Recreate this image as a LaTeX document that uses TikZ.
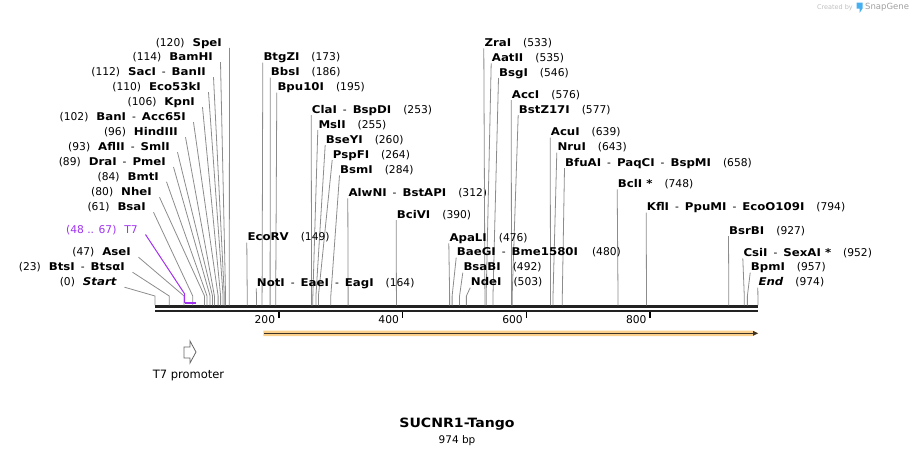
\documentclass[tikz,border=0pt]{standalone}
\usepackage{fontspec}
\setmainfont{DejaVu Sans}[BoldFeatures={FakeStretch=1.1},BoldItalicFeatures={FakeStretch=1.1}]
\usetikzlibrary{arrows.meta}

\definecolor{leadgray}{RGB}{140,140,140}
\definecolor{t7purple}{RGB}{160,50,240}
\definecolor{featorange}{RGB}{250,208,138}
\definecolor{featdark}{RGB}{60,52,40}
\definecolor{dnablack}{RGB}{34,34,34}
\definecolor{snapblue}{RGB}{70,175,240}

\newcommand{\enz}[1]{\textbf{#1}}
\newcommand{\dsh}{\hspace{6pt}-\hspace{6pt}}
\newcommand{\bpx}[1]{155+0.619*#1}

\begin{document}
\begin{tikzpicture}[x=1pt,y=-1pt,
    every node/.style={inner sep=0pt, font=\fontsize{10.7}{12}\selectfont},
    lftlbl/.style={anchor=base east},
    rgtlbl/.style={anchor=base west},
    leader/.style={draw=leadgray, line width=0.8pt}]

  \useasboundingbox (0,0) rectangle (914,456);

  % sequence (two strands)
  \coordinate (seqL) at (155,306.6);
  \coordinate (seqR) at (758,306.6);
  \coordinate (seqL2) at (155,311.2);
  \coordinate (seqR2) at (758,311.2);
  \draw[dnablack, line width=2.6pt] (seqL) -- (seqR);
  \draw[dnablack, line width=2.2pt] (seqL2) -- (seqR2);

  % ruler
  \foreach \t in {200,400,600,800} {
    \coordinate (tk\t) at ({\bpx{\t}},312.3);
    \draw[black, line width=1.5pt] (tk\t) -- ++(0,5.7);
    \node[anchor=east] (tl\t) at ({\bpx{\t}-3.5},319.5) {\t};
  }

  % sites on the left
  \foreach \nm/\yy/\xr/\bp/\txt in {
    spei/46.3/222/120/{(120)\hspace{8pt}\enz{SpeI}},
    bamhi/60.7/213/114/{(114)\hspace{8pt}\enz{BamHI}},
    saci/75.7/206/112/{(112)\hspace{8pt}\enz{SacI}\dsh\enz{BanII}},
    ecoki/90.7/201/110/{(110)\hspace{8pt}\enz{Eco53kI}},
    kpni/105.7/195/106/{(106)\hspace{8pt}\enz{KpnI}},
    bani/120.7/186/102/{(102)\hspace{8pt}\enz{BanI}\dsh\enz{Acc65I}},
    hindiii/135.7/178/96/{(96)\hspace{8pt}\enz{HindIII}},
    aflii/150.7/170/93/{(93)\hspace{8pt}\enz{AflII}\dsh\enz{SmlI}},
    drai/165.5/166/89/{(89)\hspace{8pt}\enz{DraI}\dsh\enz{PmeI}},
    bmti/180.3/159/84/{(84)\hspace{8pt}\enz{BmtI}},
    nhei/195.7/152/80/{(80)\hspace{8pt}\enz{NheI}},
    bsai/210.7/146/61/{(61)\hspace{8pt}\enz{BsaI}},
    asei/255.7/131/47/{(47)\hspace{8pt}\enz{AseI}},
    btsi/270.7/125/23/{(23)\hspace{8pt}\enz{BtsI}\dsh\enz{BtsαI}},
    start/285.7/117/0/{(0)\hspace{8pt}\textbf{\textit{Start}}}} {
    \node[lftlbl] (\nm) at (\xr,\yy) {\txt};
    \coordinate (\nm-k) at ({\bpx{\bp}},296);
    \coordinate (\nm-c) at ({\bpx{\bp}},305.3);
    \draw[leader] ([shift={(7.5,1.5)}]\nm.base east) -- (\nm-k) -- (\nm-c);
  }

  % sites on the right
  \foreach \nm/\yy/\xl/\bp/\txt in {
    btgzi/60.7/263.3/173/{\enz{BtgZI}\hspace{12pt}(173)},
    bbsi/75.7/270.7/186/{\enz{BbsI}\hspace{12pt}(186)},
    bpui/90.7/277.3/195/{\enz{Bpu10I}\hspace{12pt}(195)},
    clai/113/311.7/253/{\enz{ClaI}\dsh\enz{BspDI}\hspace{12pt}(253)},
    msli/128/318.3/255/{\enz{MslI}\hspace{12pt}(255)},
    bseyi/143/325.7/260/{\enz{BseYI}\hspace{12pt}(260)},
    pspfi/158/332.7/264/{\enz{PspFI}\hspace{12pt}(264)},
    bsmi/173.3/340/284/{\enz{BsmI}\hspace{12pt}(284)},
    alwni/196.3/348.3/312/{\enz{AlwNI}\dsh\enz{BstAPI}\hspace{12pt}(312)},
    bcivi/218/396.7/390/{\enz{BciVI}\hspace{12pt}(390)},
    ecorv/240.7/247.3/149/{\enz{EcoRV}\hspace{12pt}(149)},
    noti/286.3/256.7/164/{\enz{NotI}\dsh\enz{EaeI}\dsh\enz{EagI}\hspace{12pt}(164)},
    zrai/46.3/484.3/533/{\enz{ZraI}\hspace{12pt}(533)},
    aatii/61.3/491.7/535/{\enz{AatII}\hspace{12pt}(535)},
    bsgi/76/499/546/{\enz{BsgI}\hspace{12pt}(546)},
    acci/98/511.7/576/{\enz{AccI}\hspace{12pt}(576)},
    bstzi/113/518.7/577/{\enz{BstZ17I}\hspace{12pt}(577)},
    acui/135.7/550.7/639/{\enz{AcuI}\hspace{12pt}(639)},
    nrui/150.7/557.3/643/{\enz{NruI}\hspace{12pt}(643)},
    bfuai/166/565/658/{\enz{BfuAI}\dsh\enz{PaqCI}\dsh\enz{BspMI}\hspace{12pt}(658)},
    bcli/187.3/617.7/748/{\enz{BclI *}\hspace{12pt}(748)},
    kfli/210.7/646.7/794/{\enz{KflI}\dsh\enz{PpuMI}\dsh\enz{EcoO109I}\hspace{12pt}(794)},
    apali/241.3/449.3/476/{\enz{ApaLI}\hspace{12pt}(476)},
    baegi/255.7/456.7/480/{\enz{BaeGI}\dsh\enz{Bme1580I}\hspace{14pt}(480)},
    bsabi/270.7/463.3/492/{\enz{BsaBI}\hspace{12pt}(492)},
    ndei/285.7/470.7/503/{\enz{NdeI}\hspace{12pt}(503)},
    bsrbi/234/729/927/{\enz{BsrBI}\hspace{12pt}(927)},
    csii/256.3/743.3/952/{\enz{CsiI}\dsh\enz{SexAI *}\hspace{12pt}(952)},
    bpmi/270.7/750.7/957/{\enz{BpmI}\hspace{12pt}(957)},
    stop/285.7/758.3/974/{\textbf{\textit{End}}\hspace{12pt}(974)}} {
    \node[rgtlbl] (\nm) at (\xl,\yy) {\txt};
    \coordinate (\nm-k) at ({\bpx{\bp}},296);
    \coordinate (\nm-c) at ({\bpx{\bp}},305.3);
    \draw[leader] ([shift={(-0.5,2)}]\nm.base west) -- (\nm-k) -- (\nm-c);
  }

  % T7 feature label
  \node[lftlbl, text=t7purple] (t7) at (138,233) {(48 .. 67)\hspace{8pt}T7};
  \coordinate (t7-k) at ({\bpx{48}},294);
  \coordinate (t7-a) at ({\bpx{48}},302.8);
  \coordinate (t7-b) at ({\bpx{67}},302.8);
  \draw[t7purple, line width=1pt] ([shift={(7.5,1.5)}]t7.base east) -- (t7-k) -- (t7-a);
  \draw[t7purple, line width=1.8pt] (t7-a) -- (t7-b);

  % ORF arrow
  \coordinate (orfA) at ({\bpx{175}},333.3);
  \coordinate (orfB) at (758.5,333.3);
  \fill[featorange] ([yshift=2.8pt]orfA) -- ([shift={(-6.5,-2.8)}]orfB) -- (orfB)
    -- ([shift={(-6.5,2.8)}]orfB) -- ([yshift=-2.8pt]orfA) -- cycle;
  \draw[featdark, line width=1.5pt, -{Triangle[length=5pt,width=4.6pt]}]
    ([xshift=1pt]orfA) -- ([xshift=-0.5pt]orfB);

  % T7 promoter
  \coordinate (prom) at (184,347);
  \draw[gray!80!black, line width=0.8pt, fill=white] (prom) -- ++(6,0) -- ++(0,-6)
    -- ++(6,11) -- ++(-6,11) -- ++(0,-5) -- ++(-6,0) -- cycle;
  \node[font=\fontsize{11.5}{13}\selectfont] (promlbl) at (188.5,375) {T7 promoter};

  % title
  \node[font=\bfseries\fontsize{12.8}{15}\selectfont] (title) at (457,424.5) {SUCNR1-Tango};
  \node[font=\fontsize{10.5}{12}\selectfont] (size) at (457,440.5) {974 bp};

  % watermark
  \node[anchor=east, text=gray!50, font=\fontsize{6.5}{7}\selectfont] (cby) at (853,7.5) {Created by};
  \fill[snapblue] (856.5,2.5) -- (862.5,2.5) -- (862.5,8.5) -- (859.5,13) -- (859.5,8.5)
    -- (856.5,8.5) -- cycle;
  \node[anchor=west, text=gray!75, font=\fontsize{8.5}{9}\selectfont] (sg) at (865,7.5) {SnapGene};
\end{tikzpicture}
\end{document}
